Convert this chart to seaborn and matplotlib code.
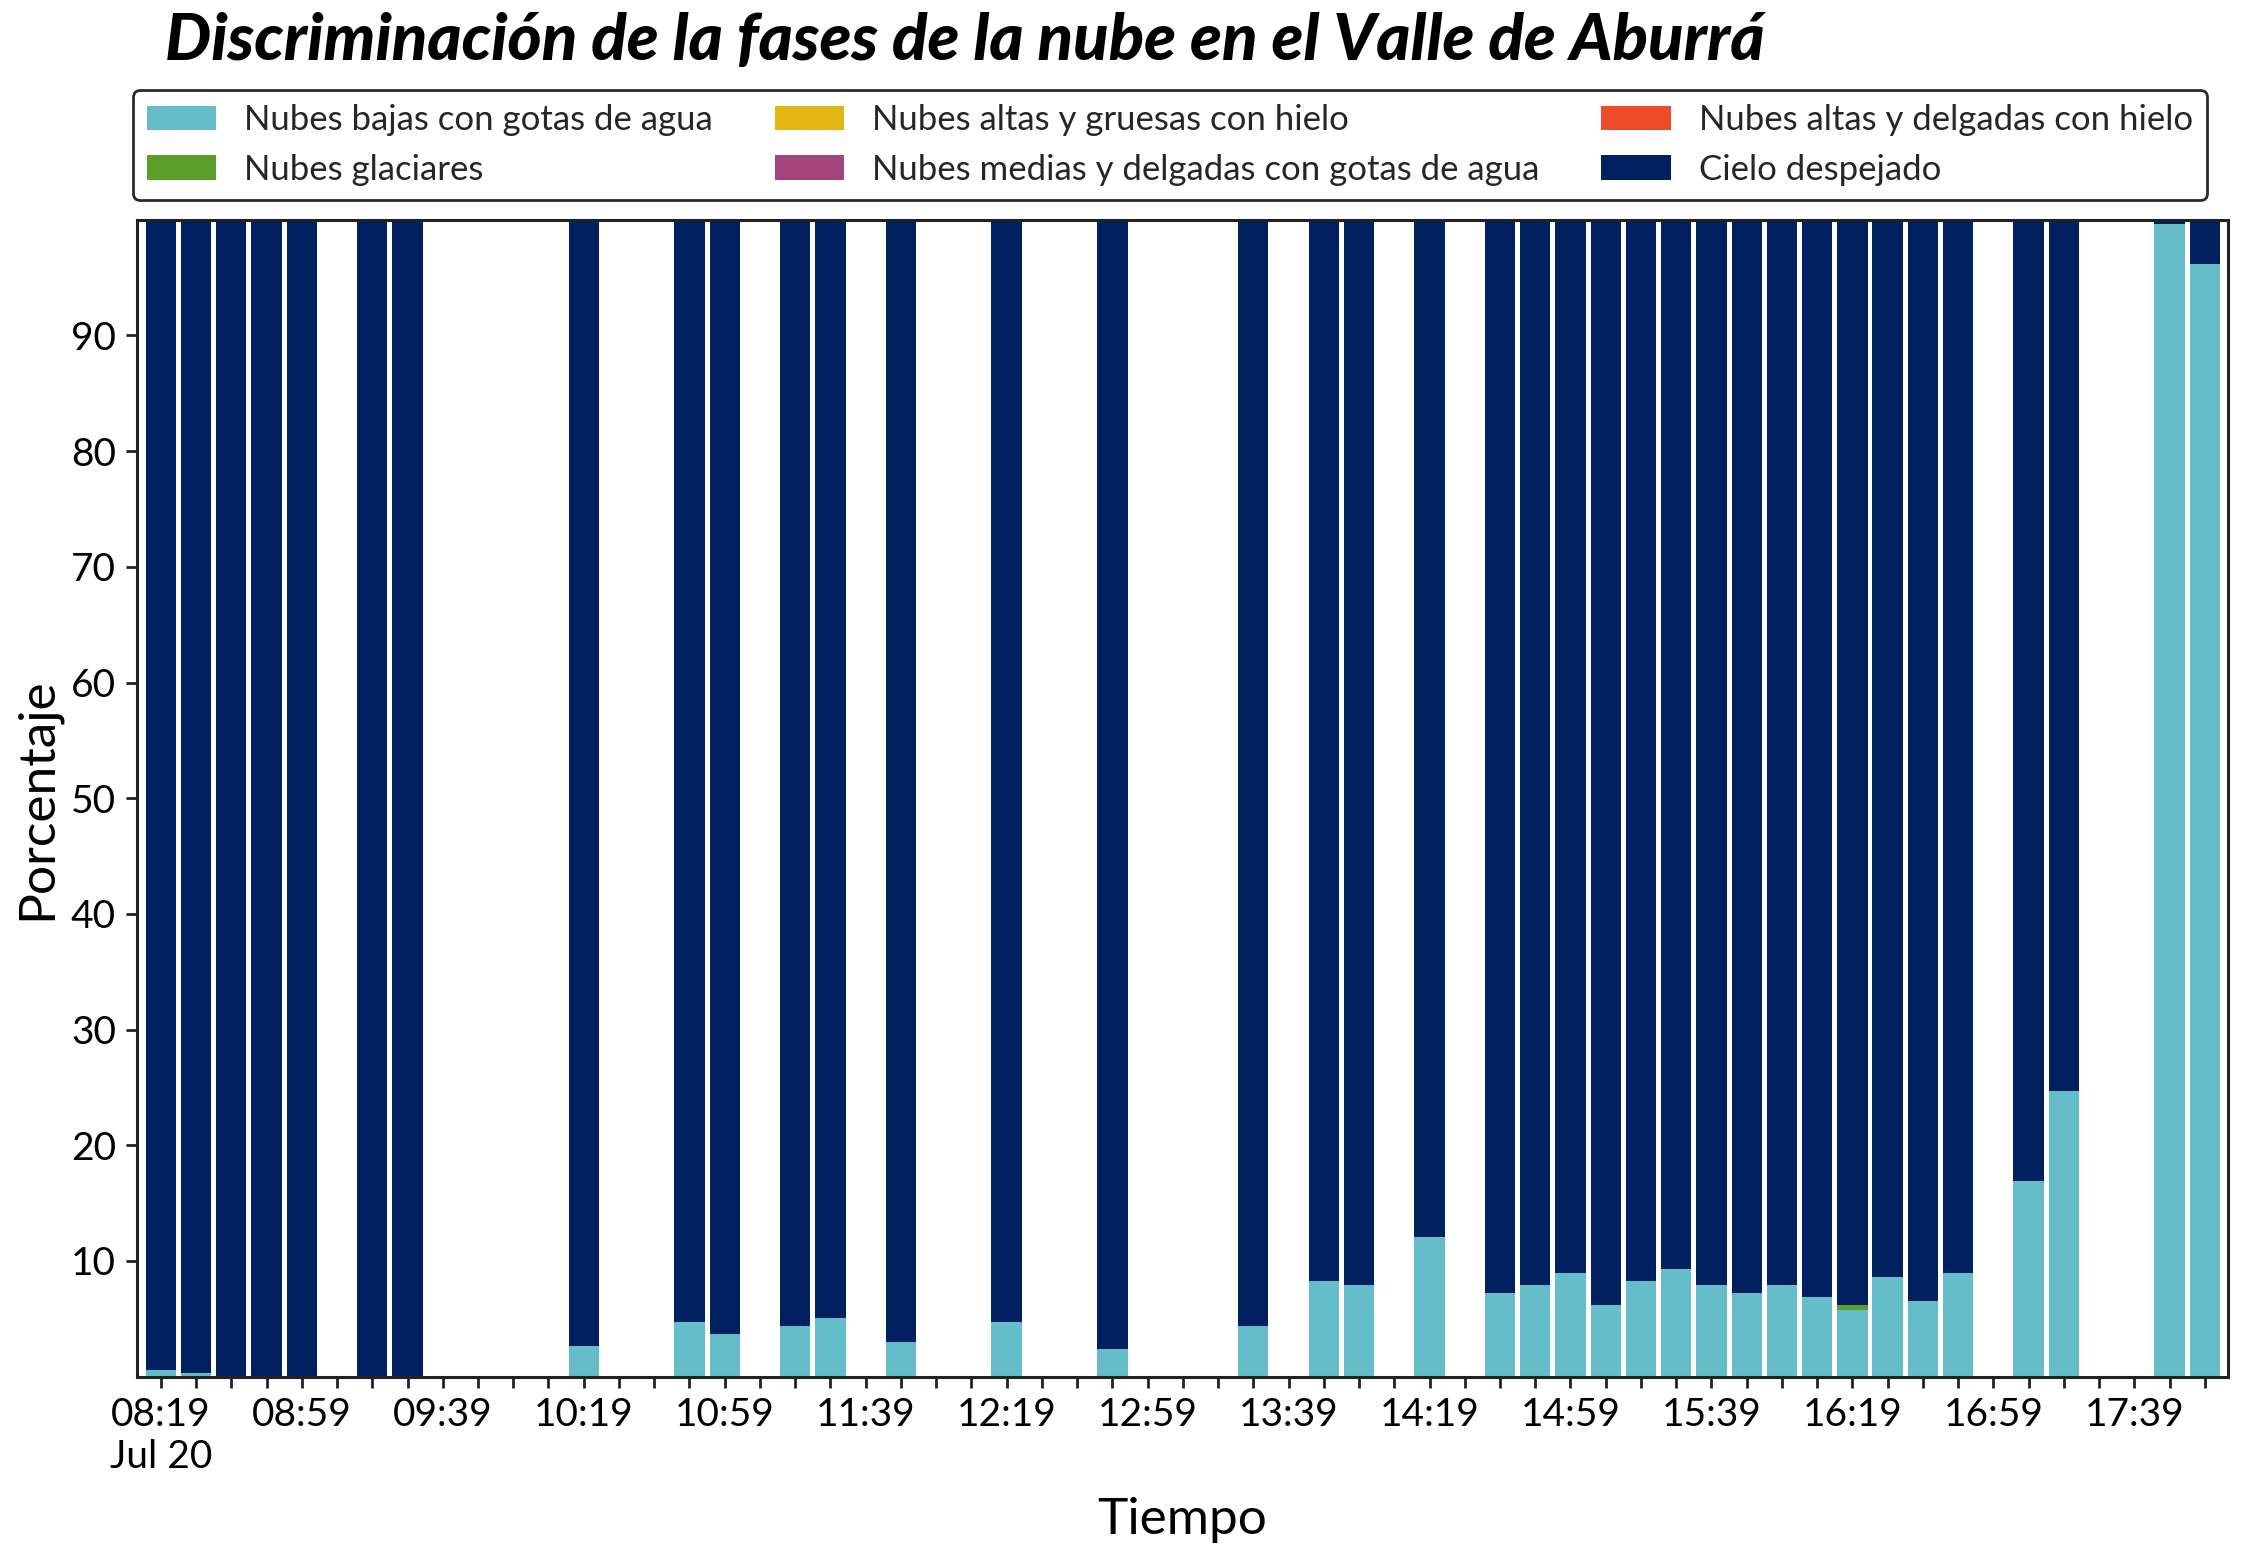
import numpy as np
import pandas as pd
import matplotlib
matplotlib.use("Agg")
import matplotlib.pyplot as plt
import matplotlib.dates as mdates
from matplotlib.patches import Patch
from matplotlib.ticker import FixedLocator, FixedFormatter
import seaborn as sns

# ---------------- data ----------------
day = "2022-07-20"
times = ["08:19", "08:29", "08:39", "08:49", "08:59", "09:19", "09:29", "10:19",
         "10:49", "10:59", "11:19", "11:29", "11:49", "12:19", "12:49", "13:29",
         "13:49", "13:59", "14:19", "14:39", "14:49", "14:59", "15:09", "15:19",
         "15:29", "15:39", "15:49", "15:59", "16:09", "16:19", "16:29", "16:39",
         "16:49", "17:09", "17:19", "17:49", "17:59"]
bajas = [0.6, 0.3, 0.0, 0.0, 0.0, 0.0, 0.0, 2.65,
         4.75, 3.7, 4.4, 5.1, 3.0, 4.75, 2.4, 4.4,
         8.25, 7.9, 12.1, 7.2, 7.9, 8.95, 6.15, 8.25,
         9.3, 7.9, 7.2, 7.9, 6.85, 5.8, 8.6, 6.5,
         8.95, 16.9, 24.7, 99.65, 96.2]
glaciares = [0.0] * 29 + [0.35] + [0.0] * 7
altas_gruesas = [0.0] * 37
medias_delgadas = [0.0] * 37
altas_delgadas = [0.0] * 37
cielo = [99.4, 99.7, 100.0, 100.0, 100.0, 100.0, 100.0, 97.35,
         95.25, 96.3, 95.6, 94.9, 97.0, 95.25, 97.6, 95.6,
         91.75, 92.1, 87.9, 92.8, 92.1, 91.05, 93.85, 91.75,
         90.7, 92.1, 92.8, 92.1, 93.15, 93.85, 91.4, 93.5,
         91.05, 83.1, 75.3, 0.35, 3.8]

categories = ["Nubes bajas con gotas de agua", "Nubes glaciares",
              "Nubes altas y gruesas con hielo",
              "Nubes medias y delgadas con gotas de agua",
              "Nubes altas y delgadas con hielo", "Cielo despejado"]
colors = ["#64BDC8", "#5B9E2A", "#E2B513", "#A3457A", "#EE4A2C", "#00205F"]
major_labels = ["08:19", "08:59", "09:39", "10:19", "10:59", "11:39", "12:19",
                "12:59", "13:39", "14:19", "14:59", "15:39", "16:19", "16:59", "17:39"]
date_label = "Jul 20"
ytick_values = [10, 20, 30, 40, 50, 60, 70, 80, 90]

# ---------------- build frame ----------------
dt = pd.to_datetime([f"{day} {t}" for t in times])
df = pd.DataFrame({"t": mdates.date2num(dt.to_pydatetime())})
series = [bajas, glaciares, altas_gruesas, medias_delgadas, altas_delgadas, cielo]
cum = np.cumsum(np.array(series, dtype=float), axis=0)
for i, c in enumerate(categories):
    df[c] = cum[i]

# ---------------- style ----------------
sns.set_theme(style="ticks")
plt.rcParams["font.family"] = ["Lato", "DejaVu Sans"]

fig = plt.figure(figsize=(11.22, 7.795), dpi=200)
ax = fig.add_axes([0.061, 0.117, 0.9319, 0.742])

for i in range(len(categories) - 1, -1, -1):
    sns.barplot(data=df, x="t", y=categories[i], color=colors[i], saturation=1,
                native_scale=True, width=0.86, errorbar=None, linewidth=0, ax=ax)

# ---------------- axes ----------------
major_dt = mdates.date2num(pd.to_datetime([f"{day} {t}" for t in major_labels]).to_pydatetime())
labels = list(major_labels)
labels[0] = labels[0] + "\n" + date_label
ax.xaxis.set_major_locator(FixedLocator(major_dt))
ax.xaxis.set_major_formatter(FixedFormatter(labels))
ax.xaxis.set_minor_locator(mdates.MinuteLocator(byminute=[9, 19, 29, 39, 49, 59]))
step = 10.0 / 1440.0
ax.set_xlim(df["t"].iloc[0] - 0.68 * step, df["t"].iloc[-1] + 0.66 * step)
ax.set_ylim(0, 100)
ax.set_yticks(ytick_values)
ax.set_yticklabels([str(v) for v in ytick_values])
ax.tick_params(axis="both", which="both", length=4, width=1.0, color="#222222",
               labelsize=14, labelcolor="black")
for s in ax.spines.values():
    s.set_visible(True)
    s.set_color("#222222")
    s.set_linewidth(1.1)
ax.set_xlabel("Tiempo", fontsize=18.5, color="black", labelpad=8)
ax.set_ylabel("Porcentaje", fontsize=18.5, color="black", labelpad=4)

# ---------------- legend & title ----------------
handles = [Patch(facecolor=c, edgecolor="none") for c in colors]
leg = fig.legend(handles, categories, ncol=3, mode="expand", loc="lower left",
                 bbox_to_anchor=(0.0593, 0.872, 0.924, 0.069), fontsize=12.5,
                 frameon=True, fancybox=True, edgecolor="#2a2a2a", framealpha=1,
                 handlelength=2.0, borderaxespad=0)
leg.get_frame().set_linewidth(1.0)

fig.text(0.0735, 0.974, "Discriminación de la fases de la nube en el Valle de Aburrá",
         fontsize=23.5, fontweight="black", fontstyle="italic", ha="left", va="center",
         color="black")

fig.savefig("out.png", dpi=200)
